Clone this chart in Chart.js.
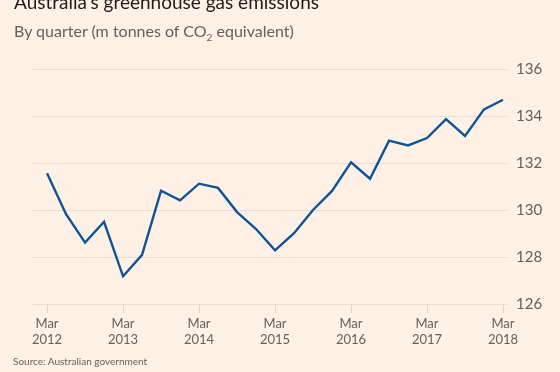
<!DOCTYPE html>
<html lang="en">
<head>
  <meta charset="utf-8">
  <title>Australia's greenhouse gas emissions</title>
  <script src="https://cdn.jsdelivr.net/npm/chart.js"></script>
  <style>
    html, body {
      margin: 0;
      padding: 0;
      background: #FFF1E5;
    }
    .wrap {
      position: relative;
      width: 560px;
      height: 372px;
      overflow: hidden;
      font-family: Lato, sans-serif;
    }
    .title {
      position: absolute;
      left: 14px;
      top: -10px;
      font-size: 19px;
      color: #1f1d1c;
      white-space: nowrap;
    }
    .subtitle {
      position: absolute;
      left: 14px;
      top: 21px;
      font-size: 16px;
      color: #66605C;
      white-space: nowrap;
    }
    .subtitle sub { font-size: 10px; }
    .source {
      position: absolute;
      left: 13px;
      top: 355px;
      font-size: 10px;
      color: #66605C;
      white-space: nowrap;
    }
    canvas { position: absolute; left: 0; top: 0; }
  </style>
</head>
<body>
<div class="wrap">
  <canvas id="chart" width="560" height="372"></canvas>
  <div class="title">Australia's greenhouse gas emissions</div>
  <div class="subtitle">By quarter (m tonnes of CO<sub>2</sub> equivalent)</div>
  <div class="source">Source: Australian government</div>
</div>

<script>
  // quarterly values, Mar 2012 .. Mar 2018
  const quarters = [
    'Mar 2012', 'Jun 2012', 'Sep 2012', 'Dec 2012',
    'Mar 2013', 'Jun 2013', 'Sep 2013', 'Dec 2013',
    'Mar 2014', 'Jun 2014', 'Sep 2014', 'Dec 2014',
    'Mar 2015', 'Jun 2015', 'Sep 2015', 'Dec 2015',
    'Mar 2016', 'Jun 2016', 'Sep 2016', 'Dec 2016',
    'Mar 2017', 'Jun 2017', 'Sep 2017', 'Dec 2017',
    'Mar 2018'
  ];
  const emissions = [
    131.56, 129.82, 128.61, 129.50,
    127.18, 128.09, 130.82, 130.41,
    131.12, 130.94, 129.91, 129.19,
    128.28, 129.01, 130.00, 130.81,
    132.03, 131.33, 132.95, 132.75,
    133.06, 133.87, 133.15, 134.28,
    134.69
  ];
  const yTicks = [126, 128, 130, 132, 134, 136];
  const xTickYears = ['2012', '2013', '2014', '2015', '2016', '2017', '2018'];

  const points = emissions.map((v, i) => ({ x: i, y: v }));

  const ctx = document.getElementById('chart').getContext('2d');
  new Chart(ctx, {
    type: 'line',
    data: {
      datasets: [{
        label: 'Emissions',
        data: points,
        borderColor: '#0F5499',
        borderWidth: 2.4,
        pointRadius: 0,
        tension: 0,
        fill: false
      }]
    },
    options: {
      responsive: false,
      animation: false,
      layout: { padding: { top: 69, left: 33, right: 0, bottom: 0 } },
      plugins: {
        legend: { display: false },
        tooltip: { enabled: false }
      },
      scales: {
        x: {
          type: 'linear',
          min: -0.74,
          max: 24.21,
          afterBuildTicks: (scale) => {
            scale.ticks = xTickYears.map((y, i) => ({ value: i * 4 }));
          },
          afterFit: (scale) => { scale.height = 68; },
          border: { display: false },
          grid: {
            drawOnChartArea: false,
            drawTicks: true,
            tickLength: 9,
            color: '#E3D6CB',
            lineWidth: 1
          },
          ticks: {
            autoSkip: false,
            maxRotation: 0,
            padding: 2,
            color: '#66605C',
            font: { family: 'Lato, sans-serif', size: 13, lineHeight: 1.28 },
            callback: (value) => ['Mar', xTickYears[Math.round(value / 4)]]
          }
        },
        y: {
          position: 'right',
          min: 126,
          max: 136,
          afterBuildTicks: (scale) => {
            scale.ticks = yTicks.map(v => ({ value: v }));
          },
          afterFit: (scale) => { scale.width = 53; },
          border: { display: false },
          grid: {
            drawTicks: false,
            color: '#E9DCD1',
            lineWidth: 1
          },
          ticks: {
            padding: 9,
            color: '#66605C',
            font: { family: 'Lato, sans-serif', size: 15 }
          }
        }
      }
    }
  });
</script>
</body>
</html>
